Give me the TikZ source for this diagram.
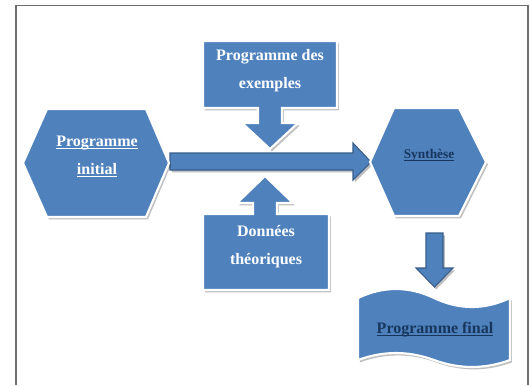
\documentclass[tikz,border=0pt]{standalone}
\usepackage{fontspec}
\setmainfont{Liberation Serif}
\usetikzlibrary{shadows}
\definecolor{blueone}{HTML}{4F81BD}
\definecolor{arrowedge}{HTML}{385D8A}
\definecolor{navytext}{HTML}{17365D}
\definecolor{framegray}{HTML}{6E6E6E}
\newcommand\worduline[1]{\underline{\smash{#1}}}
\tikzset{
  softshadow/.style={drop shadow={shadow xshift=1.4pt, shadow yshift=-1.8pt, fill=black, opacity=0.25}},
  blueshape/.style={fill=blueone, draw=white, line width=1.6pt, line join=miter, softshadow},
  blockarrow/.style={fill=blueone, draw=arrowedge, line width=0.8pt, line join=miter, softshadow},
  whitelbl/.style={text=white, font=\bfseries\fontsize{12}{21}\selectfont, align=center, inner sep=0pt},
  navylbl/.style={text=navytext, font=\bfseries\fontsize{12}{21}\selectfont, align=center, inner sep=0pt},
}
\begin{document}
\begin{tikzpicture}[x=0.75pt,y=-0.75pt]
\useasboundingbox (0,0) rectangle (530,385);
% frame
\draw[framegray, line width=1.2pt] (16,385) -- (16,5.5) -- (528,5.5) -- (528,385);

% main arrow
\draw[blockarrow] (170,153) -- (353,153) -- (353,143) -- (371,162) -- (353,180) -- (353,170) -- (170,170) -- cycle;

% left hexagon
\draw[blueshape] (23,163) -- (47,109) -- (146,109) -- (169,163) -- (146,217) -- (47,217) -- cycle;
\node[whitelbl] (init) at (97,162) {\worduline{Programme}\\\worduline{initial}};

% right hexagon
\draw[blueshape] (370,162) -- (394,108) -- (459,108) -- (486,162) -- (459,216) -- (394,216) -- cycle;
\node[navylbl, font=\bfseries\fontsize{10}{14}\selectfont] (synth) at (429,160) {\worduline{Synthèse}};

% top callout
\draw[blueshape] (203,41) -- (337,41) -- (337,108) -- (282,108) -- (282,123) -- (298,123) -- (270,149) -- (242,123) -- (258,123) -- (258,108) -- (203,108) -- cycle;
\node[whitelbl] (exemples) at (270,71) {Programme des\\exemples};

% bottom callout
\draw[blueshape] (203,214) -- (253,214) -- (253,203) -- (237,203) -- (265,176) -- (293,203) -- (277,203) -- (277,214) -- (329,214) -- (329,290) -- (203,290) -- cycle;
\node[whitelbl] (donnees) at (266,247) {Données\\théoriques};

% down arrow
\draw[blockarrow] (426,233) -- (443,233) -- (443,268) -- (453,268) -- (434.5,287) -- (416,268) -- (426,268) -- cycle;

% wave shape
\draw[blueshape] (358,298) .. controls (383.3,286) and (408.7,286) .. (434,298)
  .. controls (459.3,310) and (484.7,310) .. (510,298)
  -- (510,360) .. controls (484.7,369.3) and (459.3,369.3) .. (434,360)
  .. controls (408.7,350.7) and (383.3,350.7) .. (358,360) -- cycle;
\node[navylbl] (final) at (435,335) {\worduline{Programme final}};
\end{tikzpicture}
\end{document}
